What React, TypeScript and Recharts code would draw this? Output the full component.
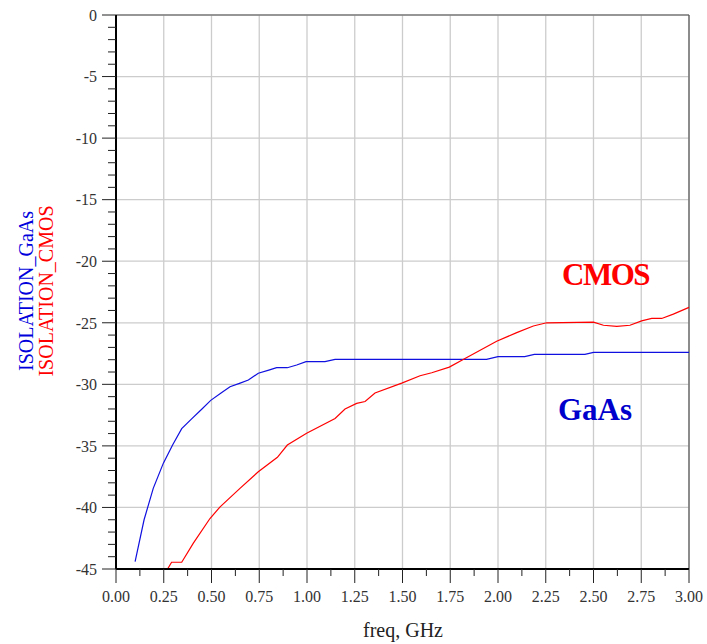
import React from 'react'
import { LineChart, Line, XAxis, YAxis, CartesianGrid, ReferenceLine } from 'recharts'

const xMajorTicks = [0, 0.25, 0.5, 0.75, 1.0, 1.25, 1.5, 1.75, 2.0, 2.25, 2.5, 2.75, 3.0]
const yMajorTicks = [-45, -40, -35, -30, -25, -20, -15, -10, -5, 0]

// minor tick marks between the labelled ones
const xAllTicks = xMajorTicks.flatMap((t, i) => (i < xMajorTicks.length - 1 ? [t, t + 0.125] : [t]))
const yAllTicks = yMajorTicks.flatMap((t, i) => (i < yMajorTicks.length - 1 ? [t, t + 1, t + 2, t + 3, t + 4] : [t]))

const gaasFreq = [0.1, 0.147, 0.195, 0.248, 0.297, 0.344, 0.396, 0.45, 0.496, 0.55, 0.597, 0.65, 0.693, 0.745, 0.8, 0.841, 0.897, 0.946, 0.995, 1.094, 1.147, 1.94, 2.0, 2.14, 2.19, 2.455, 2.5, 3.0]
const gaasIso = [-44.4, -41.0, -38.45, -36.4, -34.9, -33.6, -32.8, -32.0, -31.3, -30.7, -30.2, -29.9, -29.65, -29.1, -28.85, -28.65, -28.65, -28.43, -28.16, -28.16, -27.97, -27.97, -27.75, -27.75, -27.57, -27.57, -27.4, -27.4]

const cmosFreq = [0.27, 0.291, 0.344, 0.405, 0.492, 0.545, 0.649, 0.745, 0.845, 0.897, 0.998, 1.147, 1.199, 1.26, 1.304, 1.356, 1.496, 1.592, 1.653, 1.745, 1.82, 1.993, 2.098, 2.185, 2.255, 2.5, 2.552, 2.622, 2.691, 2.752, 2.805, 2.857, 2.918, 3.0]
const cmosIso = [-45.0, -44.45, -44.45, -42.9, -40.9, -39.95, -38.45, -37.1, -35.93, -34.93, -33.98, -32.77, -32.0, -31.55, -31.4, -30.7, -29.9, -29.3, -29.06, -28.6, -27.97, -26.5, -25.8, -25.26, -25.0, -24.95, -25.2, -25.3, -25.2, -24.85, -24.65, -24.65, -24.3, -23.75]

const gaasData = gaasFreq.map((f, i) => ({ f, v: gaasIso[i] }))
const cmosData = cmosFreq.map((f, i) => ({ f, v: cmosIso[i] }))

const FONT = '"Liberation Serif", "Times New Roman", serif'

const YTick = (props: any) => {
  const { x, y, payload } = props
  const major = yMajorTicks.includes(payload.value)
  return (
    <g>
      <line x1={x - (major ? 14 : 8)} x2={x} y1={y} y2={y} stroke="#222" />
      {major && (
        <text x={x - 19} y={y} dy="0.36em" textAnchor="end" fill="#333" style={{ fontFamily: FONT, fontSize: 16 }}>
          {payload.value}
        </text>
      )}
    </g>
  )
}

const XTick = (props: any) => {
  const { x, y, payload } = props
  const major = xMajorTicks.includes(payload.value)
  return (
    <g>
      <line x1={x} x2={x} y1={y} y2={y + (major ? 14 : 7)} stroke="#222" />
      {major && (
        <text x={x} y={y + 33} textAnchor="middle" fill="#333" style={{ fontFamily: FONT, fontSize: 16 }}>
          {payload.value.toFixed(2)}
        </text>
      )}
    </g>
  )
}

export default function App() {
  return (
    <div style={{ position: 'absolute', left: 0, top: 0, width: 707, height: 644, background: '#fff' }}>
      <LineChart width={707} height={644} margin={{ top: 15, right: 18, left: 16, bottom: 0 }}>
        <CartesianGrid
          stroke="#cccccc"
          strokeWidth={1.3}
          horizontalValues={yMajorTicks}
          verticalValues={xMajorTicks}
        />
        <XAxis
          type="number"
          dataKey="f"
          domain={[0, 3]}
          ticks={xAllTicks}
          interval={0}
          height={75}
          tickSize={0}
          tickMargin={0}
          tickLine={false}
          tick={<XTick />}
          axisLine={{ stroke: '#000', strokeWidth: 2 }}
        />
        <YAxis
          type="number"
          dataKey="v"
          domain={[-45, 0]}
          ticks={yAllTicks}
          interval={0}
          width={100}
          tickSize={0}
          tickMargin={0}
          tickLine={false}
          tick={<YTick />}
          axisLine={{ stroke: '#000', strokeWidth: 2 }}
          allowDataOverflow
        />
        <ReferenceLine y={0} stroke="#555" strokeWidth={1.2} />
        <ReferenceLine x={3} stroke="#555" strokeWidth={1.2} />
        <Line
          data={gaasData}
          dataKey="v"
          type="linear"
          stroke="#1010e0"
          strokeWidth={1.2}
          dot={false}
          isAnimationActive={false}
        />
        <Line
          data={cmosData}
          dataKey="v"
          type="linear"
          stroke="#ff0000"
          strokeWidth={1.2}
          dot={false}
          isAnimationActive={false}
        />
      </LineChart>
      <svg
        width={707}
        height={644}
        style={{ position: 'absolute', left: 0, top: 0, pointerEvents: 'none' }}
      >
        <g style={{ fontFamily: FONT }}>
          <text transform="translate(33,291) rotate(-90)" textAnchor="middle" fontSize={20} fill="#0000dd">
            ISOLATION_GaAs
          </text>
          <text transform="translate(53,291) rotate(-90)" textAnchor="middle" fontSize={20} fill="#ff0000">
            ISOLATION_CMOS
          </text>
          <text x={403} y={637} textAnchor="middle" fontSize={20} fill="#222">
            freq, GHz
          </text>
          <text x={562} y={285} fontSize={31} fontWeight="bold" letterSpacing={-1.5} fill="#ff0000">
            CMOS
          </text>
          <text x={558} y={420} fontSize={31} fontWeight="bold" fill="#0000cc">
            GaAs
          </text>
        </g>
      </svg>
    </div>
  )
}
